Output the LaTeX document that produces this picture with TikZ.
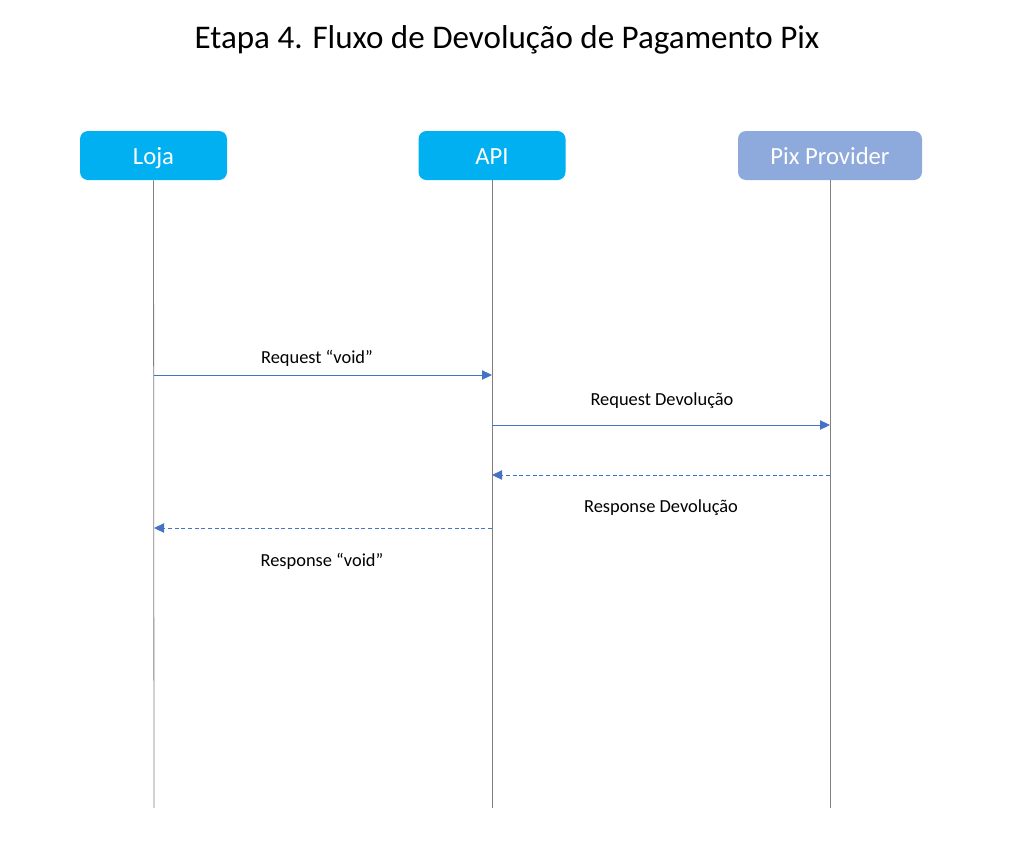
\documentclass[tikz,border=0pt]{standalone}
\usepackage{fontspec}
\setmainfont{Carlito}
\usetikzlibrary{arrows.meta}
\definecolor{boxblue}{HTML}{00B0F0}
\definecolor{pixblue}{HTML}{8EA9DB}
\definecolor{arrowblue}{HTML}{4472C4}
\definecolor{lifegray}{HTML}{808080}
\begin{document}
\begin{tikzpicture}[x=0.75pt,y=-0.75pt,
  actor/.style={rounded corners=6pt, minimum width=147*0.75pt, minimum height=49*0.75pt, inner sep=0pt, text height=15pt, text depth=2.2pt, text=white, font=\fontsize{18.5}{22}\selectfont},
  life/.style={draw=lifegray, line width=0.6pt},
  msg/.style={draw=arrowblue, line width=0.7pt, -{Triangle[length=7.5pt,width=7pt]}},
  reply/.style={msg, dashed, dash pattern=on 3pt off 2pt},
  lbl/.style={font=\fontsize{13.8}{16}\selectfont, text=black}]
\useasboundingbox (0,0) rectangle (1014,854);
\node[font=\fontsize{24.8}{30}\selectfont] (title) at (507,40) {Etapa 4. Fluxo de Devolução de Pagamento Pix};
\node[actor, fill=boxblue] (loja) at (153.5,155.5) {Loja};
\node[actor, fill=boxblue] (api) at (492,155.5) {API};
\node[actor, fill=pixblue, minimum width=184*0.75pt] (pix) at (830,155.5) {Pix Provider};
\coordinate (lojaE) at (154,808);
\coordinate (apiE) at (492,808);
\coordinate (pixE) at (830,808);
\draw[life] (loja.south) -- (lojaE);
\draw[life] (api.south) -- (apiE);
\draw[life] (pix.south) -- (pixE);
\coordinate (l1) at (154,375); \coordinate (a1) at (492,375);
\coordinate (a2) at (492,425); \coordinate (p2) at (830,425);
\coordinate (p3) at (830,475); \coordinate (a3) at (492,475);
\coordinate (a4) at (492,528); \coordinate (l4) at (154,528);
\draw[msg] (l1) -- (a1);
\draw[msg] (a2) -- (p2);
\draw[reply] (p3) -- (a3);
\draw[reply] (a4) -- (l4);
\node[lbl] (t1) at (317,358) {Request “void”};
\node[lbl] (t2) at (662,401) {Request Devolução};
\node[lbl] (t3) at (661,508) {Response Devolução};
\node[lbl] (t4) at (322,561) {Response “void”};
\end{tikzpicture}
\end{document}
